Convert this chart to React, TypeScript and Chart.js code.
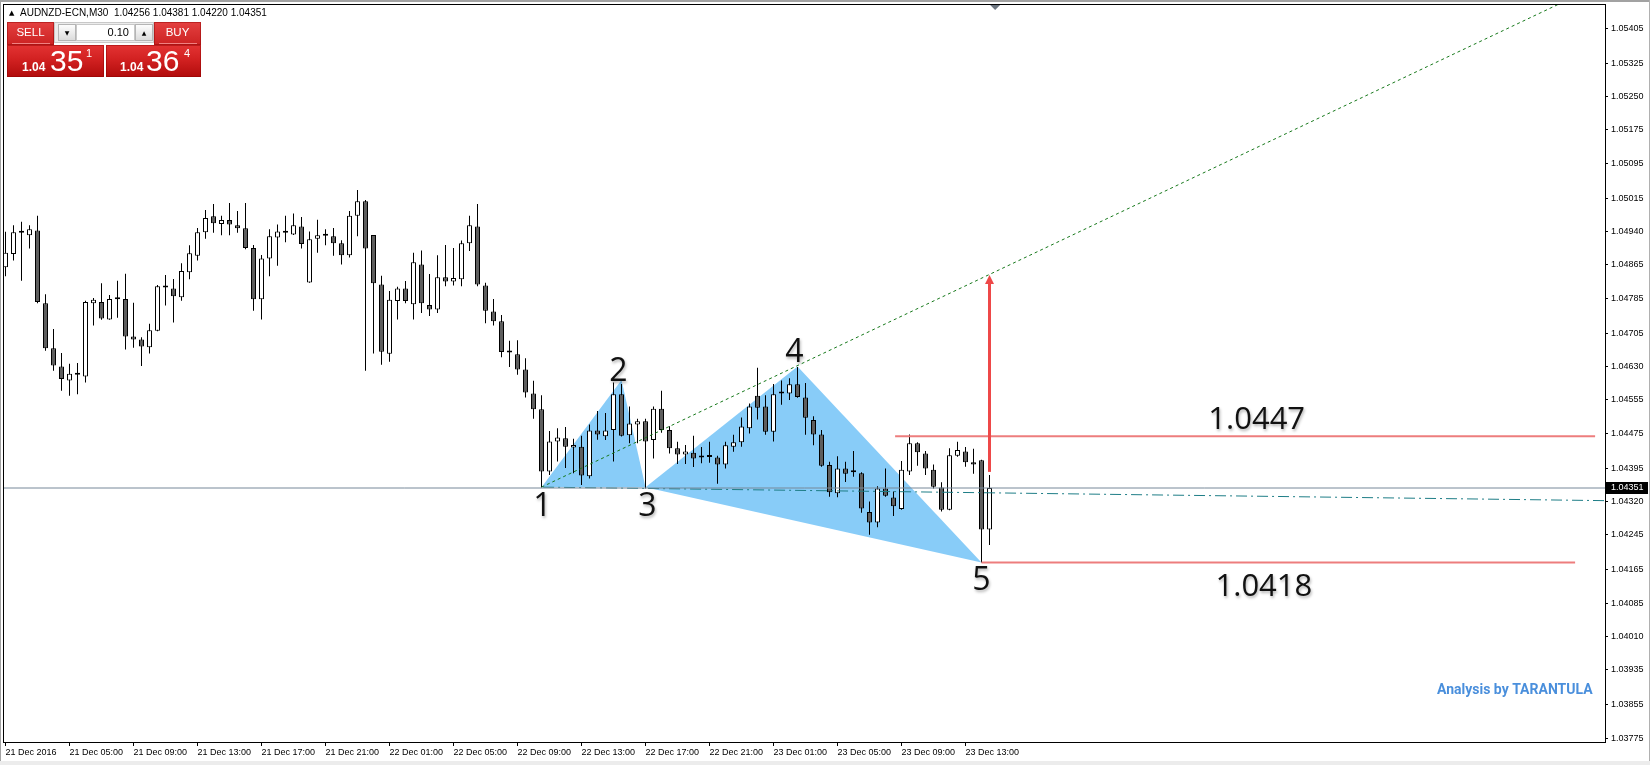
import React, { useEffect, useRef } from 'react';
import { Chart, registerables } from 'chart.js';

Chart.register(...registerables);

// ---- instrument / quote ----
const SYMBOL = 'AUDNZD-ECN,M30';
const BID = 1.04351;
const ASK = 1.04364;
const LOT = '0.10';

// ---- price and bar windows ----
const PRICE_MIN = 1.03768;
const PRICE_MAX = 1.05462;
const BAR_MIN = -0.1875;
const BAR_MAX = 199.9375;
const SHIFT_BAR = 123.7;

// ---- M30 candles, bar 0 = 21 Dec 2016 01:00 ----
const OPEN = [
  1.04858, 1.04888, 1.04937, 1.04931, 1.04942, 1.04775, 1.04672, 1.0463, 1.04598, 1.04611,
  1.04607, 1.04775, 1.04778, 1.04738, 1.04784, 1.04785, 1.04699, 1.04692, 1.04674, 1.04712,
  1.04811, 1.04809, 1.04789, 1.04846, 1.04884, 1.04938, 1.04975, 1.04957, 1.04966, 1.04954,
  1.04947, 1.04902, 1.04784, 1.04878, 1.04926, 1.04937, 1.04933, 1.04951, 1.04823, 1.04923,
  1.0493, 1.04929, 1.04913, 1.04885, 1.04976, 1.05009, 1.04932, 1.04818, 1.04659, 1.0478,
  1.04809, 1.04773, 1.04864, 1.04771, 1.04761, 1.04835, 1.04825, 1.0483, 1.04913, 1.04951,
  1.04816, 1.04756, 1.04734, 1.04662, 1.04658, 1.04623, 1.04568, 1.04532, 1.04389, 1.04458,
  1.04465, 1.04444, 1.04446, 1.04378, 1.04483, 1.0447, 1.04484, 1.04566, 1.04472, 1.04497,
  1.04504, 1.04461, 1.04533, 1.04484, 1.04442, 1.04428, 1.04432, 1.04421, 1.04422, 1.04421,
  1.04405, 1.04446, 1.04456, 1.04488, 1.04563, 1.04538, 1.0448, 1.04568, 1.04568, 1.04589,
  1.04559, 1.04507, 1.04474, 1.04404, 1.04339, 1.04396, 1.04387, 1.04385, 1.04296, 1.04272,
  1.0435, 1.04329, 1.04303, 1.04389, 1.04454, 1.0443, 1.04393, 1.04352, 1.04301, 1.04425,
  1.04435, 1.0441, 1.04415, 1.04256,
];
const HIGH = [
  1.04939, 1.04954, 1.04962, 1.04954, 1.04976, 1.04796, 1.04716, 1.04661, 1.04636, 1.04638,
  1.04781, 1.04787, 1.04821, 1.04794, 1.04827, 1.04843, 1.04776, 1.04697, 1.04728, 1.04817,
  1.0484, 1.04831, 1.04867, 1.04908, 1.04948, 1.04989, 1.05003, 1.04976, 1.05005, 1.04987,
  1.05005, 1.04909, 1.04886, 1.04945, 1.04956, 1.04976, 1.04981, 1.04973, 1.0494, 1.04967,
  1.04945, 1.04948, 1.0492, 1.04987, 1.05035, 1.05012, 1.04932, 1.04838, 1.04803, 1.04813,
  1.04826, 1.04891, 1.04896, 1.04842, 1.04885, 1.04909, 1.04902, 1.04919, 1.04976, 1.05003,
  1.04822, 1.04785, 1.04748, 1.04689, 1.0469, 1.04649, 1.04597, 1.04564, 1.04482, 1.04488,
  1.04491, 1.04464, 1.04471, 1.04497, 1.04528, 1.04523, 1.04593, 1.0459, 1.04538, 1.0451,
  1.0451, 1.04538, 1.04574, 1.04493, 1.04457, 1.0445, 1.04471, 1.04445, 1.04457, 1.04425,
  1.04457, 1.04473, 1.04513, 1.04545, 1.04627, 1.04564, 1.0459, 1.04598, 1.04603, 1.04629,
  1.04592, 1.04516, 1.04484, 1.04411, 1.04424, 1.04411, 1.04436, 1.04387, 1.0432, 1.04355,
  1.04396, 1.04343, 1.04413, 1.04474, 1.04456, 1.04436, 1.04405, 1.04364, 1.04442, 1.04457,
  1.04445, 1.04441, 1.04416, 1.04381,
];
const LOW = [
  1.04837, 1.04873, 1.04827, 1.04901, 1.04775, 1.04666, 1.0462, 1.04574, 1.04563, 1.04566,
  1.04593, 1.04724, 1.04737, 1.04737, 1.04742, 1.04669, 1.04673, 1.04631, 1.0466, 1.04711,
  1.0477, 1.04731, 1.04781, 1.0483, 1.04873, 1.04923, 1.04937, 1.04931, 1.04931, 1.04937,
  1.04899, 1.04758, 1.04738, 1.04837, 1.04861, 1.04915, 1.04932, 1.04901, 1.04822, 1.04891,
  1.04908, 1.04884, 1.04864, 1.0488, 1.04929, 1.0462, 1.0466, 1.04634, 1.04641, 1.04738,
  1.04775, 1.04738, 1.04753, 1.04746, 1.04753, 1.04814, 1.04816, 1.04814, 1.04895, 1.04814,
  1.04729, 1.04724, 1.04651, 1.04629, 1.04611, 1.04559, 1.0451, 1.04352, 1.04381, 1.04412,
  1.04397, 1.04385, 1.04358, 1.04373, 1.04462, 1.04461, 1.04412, 1.04469, 1.04454, 1.04454,
  1.0435, 1.04419, 1.04478, 1.0443, 1.04406, 1.04406, 1.04399, 1.04408, 1.04409, 1.04361,
  1.04396, 1.04434, 1.04446, 1.04476, 1.04508, 1.04473, 1.04458, 1.04542, 1.04553, 1.04558,
  1.04473, 1.04449, 1.044, 1.04331, 1.0433, 1.04365, 1.04377, 1.04294, 1.04244, 1.04261,
  1.04331, 1.04287, 1.04301, 1.04381, 1.04402, 1.04381, 1.0435, 1.04297, 1.043, 1.04423,
  1.044, 1.04384, 1.0418, 1.0422,
];
const CLOSE = [
  1.04891, 1.04938, 1.04937, 1.04945, 1.04778, 1.04672, 1.04632, 1.04601, 1.04613, 1.04611,
  1.04778, 1.04783, 1.0474, 1.04785, 1.04784, 1.04699, 1.04692, 1.04676, 1.04713, 1.04814,
  1.04811, 1.04791, 1.04849, 1.0489, 1.04938, 1.04971, 1.04959, 1.04966, 1.04956, 1.04947,
  1.04902, 1.04784, 1.04878, 1.04929, 1.0494, 1.04937, 1.04954, 1.04911, 1.04922, 1.04931,
  1.0493, 1.04913, 1.04885, 1.04976, 1.05009, 1.04901, 1.04821, 1.04664, 1.04783, 1.04809,
  1.0478, 1.04869, 1.04775, 1.04761, 1.04835, 1.04825, 1.04833, 1.04913, 1.04954, 1.04818,
  1.04758, 1.04734, 1.04663, 1.04662, 1.04623, 1.0457, 1.04532, 1.04389, 1.04458, 1.04467,
  1.04446, 1.0445, 1.0438, 1.04483, 1.04474, 1.04483, 1.04566, 1.04471, 1.04499, 1.04504,
  1.04458, 1.04533, 1.04484, 1.04442, 1.04428, 1.04435, 1.04419, 1.04421, 1.04422, 1.04405,
  1.04449, 1.04456, 1.04492, 1.04538, 1.04535, 1.0448, 1.04566, 1.04568, 1.04589, 1.0456,
  1.04512, 1.04474, 1.04402, 1.04341, 1.04396, 1.04384, 1.04387, 1.04304, 1.04272, 1.0435,
  1.04333, 1.04309, 1.04393, 1.04454, 1.04433, 1.04396, 1.04354, 1.04301, 1.04426, 1.04438,
  1.0441, 1.04405, 1.04256, 1.04351,
];

// ---- axis ticks ----
const X_TICK_BARS = [0, 8, 16, 24, 32, 40, 48, 56, 64, 72, 80, 88, 96, 104, 112, 120];
const X_TICK_LABELS = [
  '21 Dec 2016', '21 Dec 05:00', '21 Dec 09:00', '21 Dec 13:00', '21 Dec 17:00', '21 Dec 21:00',
  '22 Dec 01:00', '22 Dec 05:00', '22 Dec 09:00', '22 Dec 13:00', '22 Dec 17:00', '22 Dec 21:00',
  '23 Dec 01:00', '23 Dec 05:00', '23 Dec 09:00', '23 Dec 13:00',
];
const Y_TICKS = [
  1.05405, 1.05325, 1.0525, 1.05175, 1.05095, 1.05015, 1.0494, 1.04865, 1.04785, 1.04705, 1.0463,
  1.04555, 1.04475, 1.04395, 1.0432, 1.04245, 1.04165, 1.04085, 1.0401, 1.03935, 1.03855, 1.03775,
];

// ---- pattern annotations ----
const PIVOTS = [
  { name: '1', x: 67, y: 1.04353 },
  { name: '2', x: 77, y: 1.04599 },
  { name: '3', x: 80, y: 1.04353 },
  { name: '4', x: 99, y: 1.0463 },
  { name: '5', x: 122, y: 1.0418 },
];
const TRIANGLES = [
  [0, 1, 2],
  [2, 3, 4],
];
const TREND_LINE = [
  { x: 67, y: 1.04353 },
  { x: 99, y: 1.04632 },
];
const BASE_LINE = [
  { x: 67.2, y: 1.04353 },
  { x: 200, y: 1.04322 },
];
const LEVELS = [
  { value: 1.0447, from: 111.2, to: 198.7, labelBar: 156.4, side: 'above' },
  { value: 1.0418, from: 122, to: 196.2, labelBar: 157.3, side: 'below' },
];
const TARGET = { x: 123, from: 1.04388, to: 1.0484 };
const WATERMARK = 'Analysis by TARANTULA';

// pixel offsets of the pivot numbers from their pivot (dx, baseline dy)
const PIVOT_LABEL_OFFSETS: Record<string, [number, number]> = {
  '1': [1, 29],
  '2': [-3, 1],
  '3': [2, 29],
  '4': [-3, -4],
  '5': [0, 27],
};

const AXIS_FONT = { family: '"Liberation Sans", Arial, sans-serif', size: 9 };

function extendLine(a: { x: number; y: number }, b: { x: number; y: number }, xEnd: number) {
  const slope = (b.y - a.y) / (b.x - a.x);
  return [
    { x: a.x, y: a.y },
    { x: xEnd, y: a.y + slope * (xEnd - a.x) },
  ];
}

const overlayPlugin = {
  id: 'mt4Overlay',
  beforeDatasetsDraw(chart: any) {
    const { ctx, chartArea: a } = chart;
    const xs = chart.scales.x;
    const ys = chart.scales.y;
    ctx.save();
    ctx.beginPath();
    ctx.rect(a.left, a.top, a.right - a.left, a.bottom - a.top);
    ctx.clip();
    ctx.fillStyle = 'rgb(136,204,248)';
    TRIANGLES.forEach((tri) => {
      ctx.beginPath();
      tri.forEach((k, j) => {
        const p = PIVOTS[k];
        const px = xs.getPixelForValue(p.x);
        const py = ys.getPixelForValue(p.y);
        if (j === 0) ctx.moveTo(px, py);
        else ctx.lineTo(px, py);
      });
      ctx.closePath();
      ctx.fill();
    });
    ctx.restore();
  },
  afterDatasetsDraw(chart: any) {
    const { ctx, chartArea: a } = chart;
    const xs = chart.scales.x;
    const ys = chart.scales.y;
    ctx.save();
    ctx.beginPath();
    ctx.rect(a.left, a.top, a.right - a.left, a.bottom - a.top);
    ctx.clip();

    // target arrow
    const ax = xs.getPixelForValue(TARGET.x);
    const y0 = ys.getPixelForValue(TARGET.from);
    const y1 = ys.getPixelForValue(TARGET.to);
    ctx.strokeStyle = '#ee4848';
    ctx.fillStyle = '#ee4848';
    ctx.lineWidth = 3;
    ctx.beginPath();
    ctx.moveTo(ax, y0);
    ctx.lineTo(ax, y1 + 8);
    ctx.stroke();
    ctx.beginPath();
    ctx.moveTo(ax, y1);
    ctx.lineTo(ax - 4.5, y1 + 9);
    ctx.lineTo(ax + 4.5, y1 + 9);
    ctx.closePath();
    ctx.fill();

    // pivot numbers and level captions
    ctx.shadowColor = 'rgba(0,0,0,0.3)';
    ctx.shadowBlur = 3;
    ctx.shadowOffsetX = 1;
    ctx.shadowOffsetY = 2;
    ctx.fillStyle = '#111';
    ctx.textAlign = 'center';
    ctx.textBaseline = 'alphabetic';
    ctx.font = '32px "Open Sans", "Noto Sans", sans-serif';
    PIVOTS.forEach((p) => {
      const [dx, dy] = PIVOT_LABEL_OFFSETS[p.name];
      ctx.fillText(p.name, xs.getPixelForValue(p.x) + dx, ys.getPixelForValue(p.y) + dy);
    });
    ctx.font = '31px "Open Sans", "Noto Sans", sans-serif';
    LEVELS.forEach((l) => {
      const py = ys.getPixelForValue(l.value);
      ctx.fillText(l.value.toFixed(4), xs.getPixelForValue(l.labelBar), l.side === 'above' ? py - 7 : py + 33);
    });
    ctx.shadowColor = 'transparent';
    ctx.shadowBlur = 0;
    ctx.shadowOffsetX = 0;
    ctx.shadowOffsetY = 0;

    // watermark
    ctx.fillStyle = '#4a8fdc';
    ctx.textAlign = 'left';
    ctx.font = 'bold 14px Roboto, "Liberation Sans", sans-serif';
    ctx.fillText(WATERMARK, a.right - 168, a.bottom - 48);
    ctx.restore();
  },
  afterDraw(chart: any) {
    const { ctx, chartArea: a } = chart;
    const xs = chart.scales.x;
    const ys = chart.scales.y;
    ctx.save();
    // chart frame
    ctx.strokeStyle = '#000';
    ctx.lineWidth = 1;
    ctx.strokeRect(a.left - 0.5, a.top + 0.5, a.right - a.left + 1, a.bottom - a.top);

    // bid price tag on the price axis
    const py = Math.round(ys.getPixelForValue(BID));
    ctx.fillStyle = '#000';
    ctx.fillRect(a.right + 1, py - 6, 42, 12);
    ctx.fillStyle = '#fff';
    ctx.font = '9px "Liberation Sans", Arial, sans-serif';
    ctx.textAlign = 'left';
    ctx.textBaseline = 'middle';
    ctx.fillText(BID.toFixed(5), a.right + 6, py);

    // chart shift marker
    const sx = xs.getPixelForValue(SHIFT_BAR);
    ctx.fillStyle = '#6c7580';
    ctx.beginPath();
    ctx.moveTo(sx - 5, a.top + 1);
    ctx.lineTo(sx + 5, a.top + 1);
    ctx.lineTo(sx, a.top + 6);
    ctx.closePath();
    ctx.fill();
    ctx.restore();
  },
};

function splitQuote(price: number) {
  const s = price.toFixed(5);
  return { head: s.slice(0, 4), big: s.slice(4, 6), tail: s.slice(6) };
}

const abs = (left: number, top: number, extra: React.CSSProperties = {}): React.CSSProperties => ({
  position: 'absolute',
  left,
  top,
  ...extra,
});

export default function App() {
  const ref = useRef<HTMLCanvasElement>(null);

  useEffect(() => {
    const canvas = ref.current;
    if (!canvas) return;
    const idx = CLOSE.map((_, i) => i);
    const wicks = idx.map((i) => ({ x: i, y: [LOW[i], HIGH[i]] }));
    const bodies = idx.map((i) => ({ x: i, y: [OPEN[i], CLOSE[i]] }));
    const bodyFill = idx.map((i) => (CLOSE[i] >= OPEN[i] ? '#ffffff' : '#5e5e5e'));

    const lineDs = (data: any[], color: string, width: number, dash: number[] = []) => ({
      type: 'line' as const,
      data,
      borderColor: color,
      borderWidth: width,
      borderDash: dash,
      pointRadius: 0,
      fill: false,
      tension: 0,
      order: 0,
      clip: 0,
    });

    const chart = new Chart(canvas, {
      type: 'bar',
      data: {
        datasets: [
          {
            type: 'bar',
            data: wicks as any,
            backgroundColor: '#000',
            borderWidth: 0,
            barThickness: 1,
            grouped: false,
            inflateAmount: 0,
            order: 2,
            clip: 0,
          } as any,
          {
            type: 'bar',
            data: bodies as any,
            backgroundColor: bodyFill,
            borderColor: '#000',
            borderWidth: 1,
            borderSkipped: false,
            barThickness: 5,
            minBarLength: 2,
            grouped: false,
            inflateAmount: 0,
            order: 1,
            clip: 0,
          } as any,
          lineDs(
            [
              { x: BAR_MIN, y: BID },
              { x: BAR_MAX, y: BID },
            ],
            '#778899',
            1
          ) as any,
          lineDs(BASE_LINE, '#1d7d86', 1, [11, 4, 2, 4]) as any,
          lineDs(extendLine(TREND_LINE[0], TREND_LINE[1], BAR_MAX + 5), '#16781a', 1, [3, 3]) as any,
          ...LEVELS.map(
            (l) =>
              lineDs(
                [
                  { x: l.from, y: l.value },
                  { x: l.to, y: l.value },
                ],
                'rgba(236,118,118,0.95)',
                2
              ) as any
          ),
        ],
      },
      options: {
        animation: false,
        responsive: false,
        devicePixelRatio: 1,
        events: [],
        layout: { padding: { left: 4, top: 4, right: 0, bottom: 0 } },
        plugins: { legend: { display: false }, tooltip: { enabled: false } },
        scales: {
          x: {
            type: 'linear',
            position: 'bottom',
            min: BAR_MIN,
            max: BAR_MAX,
            offset: false,
            afterBuildTicks: (s: any) => {
              s.ticks = X_TICK_BARS.map((v) => ({ value: v }));
            },
            afterFit: (s: any) => {
              s.height = 23;
              s.paddingLeft = 0;
              s.paddingRight = 0;
            },
            ticks: {
              autoSkip: false,
              maxRotation: 0,
              minRotation: 0,
              align: 'start',
              padding: 1,
              color: '#000',
              font: AXIS_FONT,
              callback: (v: any) => X_TICK_LABELS[X_TICK_BARS.indexOf(Number(v))] ?? '',
            },
            grid: { drawOnChartArea: false, drawTicks: true, tickLength: 4, color: '#000', offset: false },
            border: { display: false },
          },
          y: {
            type: 'linear',
            position: 'right',
            min: PRICE_MIN,
            max: PRICE_MAX,
            afterBuildTicks: (s: any) => {
              s.ticks = Y_TICKS.map((v) => ({ value: v }));
            },
            afterFit: (s: any) => {
              s.width = 45;
              s.paddingTop = 0;
              s.paddingBottom = 0;
            },
            ticks: {
              padding: 3,
              color: '#000',
              font: AXIS_FONT,
              callback: (v: any) => Number(v).toFixed(5),
            },
            grid: { drawOnChartArea: false, drawTicks: true, tickLength: 3, color: '#000' },
            border: { display: false },
          },
        },
      } as any,
      plugins: [overlayPlugin],
    });
    return () => chart.destroy();
  }, []);

  const last = CLOSE.length - 1;
  const header = `${SYMBOL}  ${[OPEN[last], HIGH[last], LOW[last], CLOSE[last]].map((v) => v.toFixed(5)).join(' ')}`;
  const sell = splitQuote(BID);
  const buy = splitQuote(ASK);

  const ui = '"Liberation Sans", Arial, sans-serif';
  const btnRed = 'linear-gradient(#e44040, #cc2222)';
  const boxRed = 'linear-gradient(#e33333 0%, #d22121 45%, #b10c0c 100%)';
  const spin: React.CSSProperties = {
    width: 18,
    height: 17,
    background: 'linear-gradient(#fdfdfd, #dcdcdc)',
    border: '1px solid #b5b5b5',
    boxSizing: 'border-box',
    fontSize: 6,
    lineHeight: '15px',
    textAlign: 'center',
    color: '#000',
    fontFamily: '"DejaVu Sans", sans-serif',
  };

  return (
    <div
      style={{
        position: 'fixed',
        left: 0,
        top: 0,
        width: 1650,
        height: 765,
        background: '#fff',
        overflow: 'hidden',
      }}
    >
      <canvas ref={ref} width={1650} height={765} style={{ display: 'block', position: 'absolute', left: 0, top: 0 }} />

      {/* window edges */}
      <div style={abs(0, 0, { width: 1650, height: 2, background: '#a2a2a2' })} />
      <div style={abs(0, 0, { width: 1, height: 765, background: '#a2a2a2' })} />
      <div style={abs(1649, 0, { width: 1, height: 765, background: '#b0b0b0' })} />
      <div style={abs(0, 761, { width: 1650, height: 4, background: '#ececec' })} />

      {/* header line */}
      <div style={abs(9, 8, { fontFamily: '"DejaVu Sans", sans-serif', fontSize: 7, lineHeight: '10px' })}>▲</div>
      <div
        style={abs(20, 7, {
          fontFamily: ui,
          fontSize: 10,
          lineHeight: '11px',
          whiteSpace: 'pre',
          color: '#000',
        })}
      >
        {header}
      </div>

      {/* one-click trading panel */}
      <div
        style={abs(7, 22, {
          width: 47,
          height: 23,
          background: btnRed,
          color: '#fff',
          fontFamily: ui,
          fontSize: 11.5,
          lineHeight: '21px',
          textAlign: 'center',
          boxShadow: 'inset 0 0 0 1px rgba(140,0,0,0.45)',
        })}
      >
        SELL
        <div style={abs(5, 21, { width: 38, height: 1, background: 'rgba(255,170,170,0.7)' })} />
      </div>
      <div
        style={abs(54, 22, {
          width: 100,
          height: 21,
          background: '#ececec',
          boxSizing: 'border-box',
          border: '1px solid #c8c8c8',
        })}
      >
        <div style={{ ...abs(3, 1), ...spin }}>▼</div>
        <div
          style={abs(21, 1, {
            width: 59,
            height: 17,
            background: '#fff',
            boxSizing: 'border-box',
            border: '1px solid #c8c8c8',
            fontFamily: ui,
            fontSize: 11,
            lineHeight: '15px',
            textAlign: 'right',
            paddingRight: 5,
            color: '#000',
          })}
        >
          {LOT}
        </div>
        <div style={{ ...abs(80, 1), ...spin }}>▲</div>
      </div>
      <div
        style={abs(154, 22, {
          width: 47,
          height: 23,
          background: btnRed,
          color: '#fff',
          fontFamily: ui,
          fontSize: 11.5,
          lineHeight: '21px',
          textAlign: 'center',
          boxShadow: 'inset 0 0 0 1px rgba(140,0,0,0.45)',
        })}
      >
        BUY
        <div style={abs(5, 21, { width: 38, height: 1, background: 'rgba(255,170,170,0.7)' })} />
      </div>

      <div style={abs(7, 45, { width: 97, height: 32, background: boxRed, boxShadow: 'inset 0 0 0 1px rgba(140,0,0,0.45)' })} />
      <div style={abs(106, 45, { width: 95, height: 32, background: boxRed, boxShadow: 'inset 0 0 0 1px rgba(140,0,0,0.45)' })} />

      <div style={abs(22, 61, { color: '#fff', fontFamily: ui, fontWeight: 'bold', fontSize: 12, lineHeight: '12px' })}>{sell.head}</div>
      <div style={abs(50, 46, { color: '#fff', fontFamily: ui, fontSize: 30, lineHeight: '30px' })}>{sell.big}</div>
      <div style={abs(86, 48, { color: '#fff', fontFamily: ui, fontSize: 11, lineHeight: '11px' })}>{sell.tail}</div>

      <div style={abs(120, 61, { color: '#fff', fontFamily: ui, fontWeight: 'bold', fontSize: 12, lineHeight: '12px' })}>{buy.head}</div>
      <div style={abs(146, 46, { color: '#fff', fontFamily: ui, fontSize: 30, lineHeight: '30px' })}>{buy.big}</div>
      <div style={abs(184, 48, { color: '#fff', fontFamily: ui, fontSize: 11, lineHeight: '11px' })}>{buy.tail}</div>
    </div>
  );
}
